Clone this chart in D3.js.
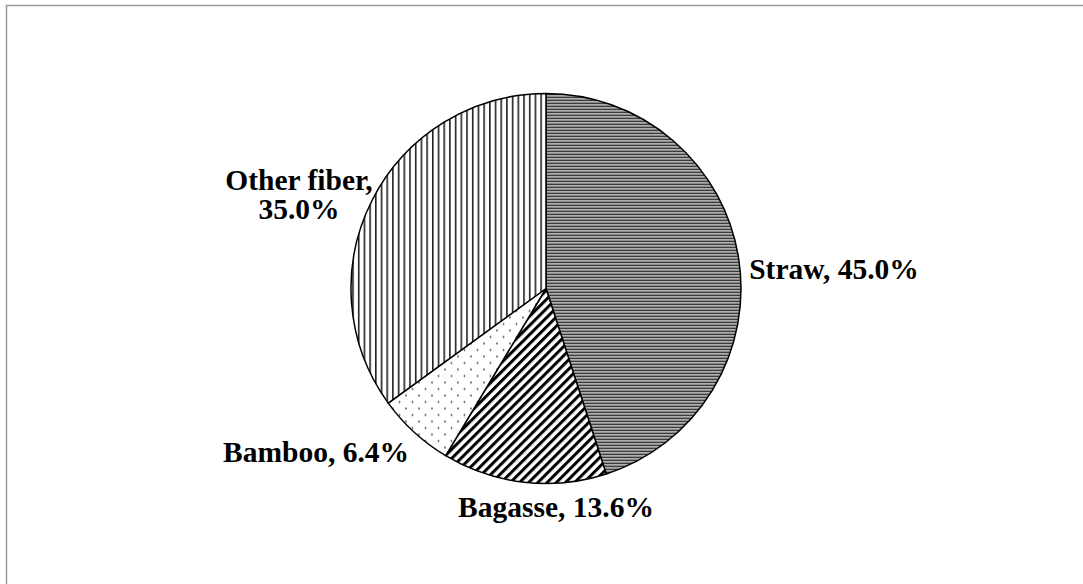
<!DOCTYPE html>
<html>
<head>
<meta charset="utf-8">
<script src="https://cdn.jsdelivr.net/npm/d3@7"></script>
<style>
  body { margin: 0; background: #fff; }
  svg { display: block; }
  text { font-family: "Liberation Serif", "Times New Roman", serif; font-weight: bold; font-size: 29.5px; fill: #000; }
</style>
</head>
<body>
<svg id="chart" width="1083" height="584"></svg>
<script>
var categories = ["Straw", "Bagasse", "Bamboo", "Other fiber"];
var shares = [45.0, 13.6, 6.4, 35.0];
var patterns = ["hlines", "diag", "dots", "vlines"];
// label lines and anchor point (px) for each slice
var labelLines = [["Straw, 45.0%"], ["Bagasse, 13.6%"], ["Bamboo, 6.4%"], ["Other fiber,", "35.0%"]];
var labelPos = [[834, 269], [556, 507], [316, 452], [299, 180]];

var svg = d3.select("#chart"),
  width = +svg.attr("width"),
  height = +svg.attr("height");

svg.append("rect")
  .attr("x", 6.5).attr("y", 5.5)
  .attr("width", width + 10).attr("height", height + 10)
  .attr("fill", "none").attr("stroke", "#9a9a9a").attr("stroke-width", 1.5);

var defs = svg.append("defs");

var p = defs.append("pattern").attr("id", "hlines")
  .attr("patternUnits", "userSpaceOnUse").attr("width", 8).attr("height", 3);
p.append("rect").attr("width", 8).attr("height", 3).attr("fill", "#fff");
p.append("rect").attr("y", 0).attr("width", 8).attr("height", 1.7).attr("fill", "#1a1a1a");

p = defs.append("pattern").attr("id", "vlines")
  .attr("patternUnits", "userSpaceOnUse").attr("width", 5.7).attr("height", 8);
p.append("rect").attr("width", 5.7).attr("height", 8).attr("fill", "#fff");
p.append("rect").attr("x", 0).attr("width", 1.6).attr("height", 8).attr("fill", "#222");

p = defs.append("pattern").attr("id", "diag")
  .attr("patternUnits", "userSpaceOnUse").attr("width", 6.5).attr("height", 6.5)
  .attr("patternTransform", "rotate(45)");
p.append("rect").attr("width", 6.5).attr("height", 6.5).attr("fill", "#fff");
p.append("rect").attr("x", 0).attr("width", 3).attr("height", 6.5).attr("fill", "#000");

p = defs.append("pattern").attr("id", "dots")
  .attr("patternUnits", "userSpaceOnUse").attr("width", 13).attr("height", 13);
p.append("rect").attr("width", 13).attr("height", 13).attr("fill", "#fff");
p.append("circle").attr("cx", 3).attr("cy", 3).attr("r", 0.9).attr("fill", "#444");
p.append("circle").attr("cx", 9.5).attr("cy", 9.5).attr("r", 0.9).attr("fill", "#444");

var cx = 546, cy = 288.5, r = 195;

var pie = d3.pie().sort(null).value(function (d) { return d; });
var arc = d3.arc().innerRadius(0).outerRadius(r);

var g = svg.append("g").attr("transform", "translate(" + cx + "," + cy + ")");

g.selectAll("path")
  .data(pie(shares))
  .enter()
  .append("path")
  .attr("d", arc)
  .attr("fill", function (d, i) { return "url(#" + patterns[i] + ")"; })
  .attr("stroke", "#000")
  .attr("stroke-width", 1.5)
  .attr("stroke-linejoin", "round");

var label = svg.append("g")
  .selectAll("text")
  .data(categories)
  .enter()
  .append("text")
  .attr("text-anchor", "middle")
  .attr("x", function (d, i) { return labelPos[i][0]; })
  .attr("y", function (d, i) { return labelPos[i][1]; });

label.each(function (d, i) {
  var t = d3.select(this);
  labelLines[i].forEach(function (line, j) {
    t.append("tspan")
      .attr("x", labelPos[i][0])
      .attr("dy", j === 0 ? ".35em" : "29px")
      .text(line);
  });
});
</script>
</body>
</html>
